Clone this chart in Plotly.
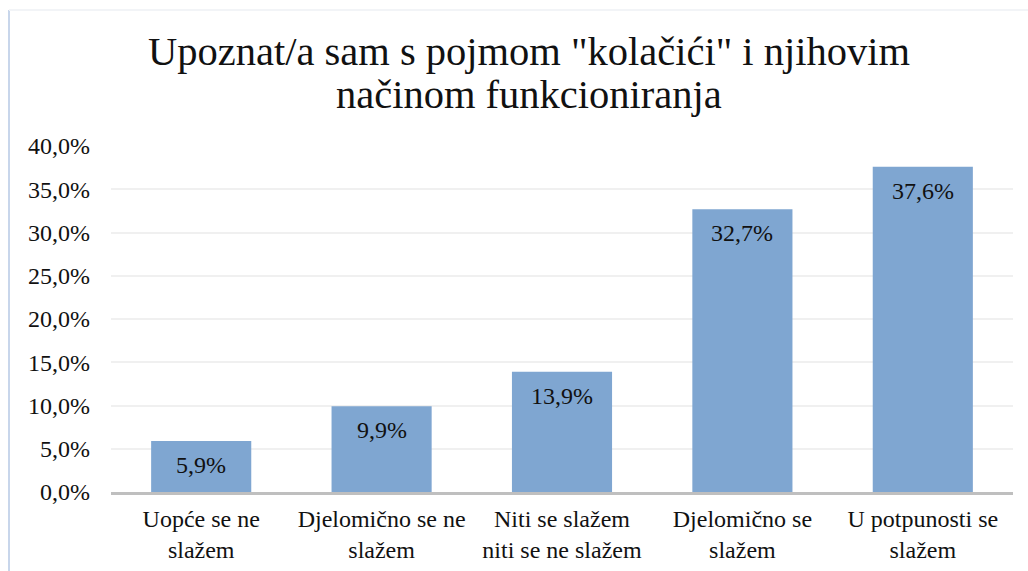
import plotly.graph_objects as go

categories = ["Uopće se ne<br>slažem", "Djelomično se ne<br>slažem", "Niti se slažem<br>niti se ne slažem",
              "Djelomično se<br>slažem", "U potpunosti se<br>slažem"]
values = [5.9, 9.9, 13.9, 32.7, 37.6]
value_labels = ["5,9%", "9,9%", "13,9%", "32,7%", "37,6%"]
tick_vals = [0, 5, 10, 15, 20, 25, 30, 35, 40]
tick_text = ["0,0%", "5,0%", "10,0%", "15,0%", "20,0%", "25,0%", "30,0%", "35,0%", "40,0%"]
title_lines = ["Upoznat/a sam s pojmom \"kolačići\" i njihovim", "načinom funkcioniranja"]

FONT = "'Liberation Serif'"
BAR = "rgb(127,166,209)"
TXT = "#111111"

fig = go.Figure()
fig.add_trace(go.Bar(x=categories, y=values, marker=dict(color=BAR, line=dict(width=0)),
                     width=0.555, hoverinfo="skip"))

L, R, T, B = 111, 15, 146, 79
W, H = 1028, 571
pw, ph = W - L - R, H - T - B

annotations = []
for c, v, t in zip(categories, values, value_labels):
    annotations.append(dict(x=c, y=v, text=t, showarrow=False, xref="x", yref="y",
                            yanchor="top", yshift=-9, font=dict(family=FONT, size=24, color=TXT)))
for line, py in zip(title_lines, [51, 95]):
    annotations.append(dict(x=(529 - L) / pw, y=1 - (py - T) / ph, xref="paper", yref="paper", text=line,
                            showarrow=False, xanchor="center", yanchor="middle",
                            font=dict(family=FONT, size=40.5, color=TXT)))

shapes = [
    dict(type="line", xref="paper", yref="paper", x0=(9 - L) / pw, x1=(9 - L) / pw,
         y0=1 + (T - 10) / ph, y1=-(H - T + 5) / ph + 1, line=dict(color="rgb(200,214,235)", width=2)),
    dict(type="line", xref="paper", yref="paper", x0=(9 - L) / pw, x1=(W + 5 - L) / pw,
         y0=1 + (T - 10) / ph, y1=1 + (T - 10) / ph, line=dict(color="rgb(242,244,247)", width=2)),
]

fig.update_layout(
    width=W, height=H,
    margin=dict(l=L, r=R, t=T, b=B, autoexpand=False),
    paper_bgcolor="white", plot_bgcolor="white",
    showlegend=False,
    font=dict(family=FONT, size=24, color=TXT),
    bargap=0.445,
    annotations=annotations,
    shapes=shapes,
    xaxis=dict(showline=True, linecolor="rgb(191,191,191)", linewidth=2.5, ticks="", automargin=False,
               ticklabelstandoff=3,
               tickfont=dict(family=FONT, size=24, color=TXT), showgrid=False, fixedrange=True),
    yaxis=dict(range=[0, 40], tickvals=tick_vals, ticktext=tick_text, showgrid=True, automargin=False,
               gridcolor="rgb(240,240,240)", gridwidth=1.5, zeroline=False, ticks="",
               ticklabelstandoff=20, tickfont=dict(family=FONT, size=24, color=TXT), fixedrange=True),
)

fig.write_html("out.html", config={"displayModeBar": False},
               post_script="document.body.style.margin='0';")
